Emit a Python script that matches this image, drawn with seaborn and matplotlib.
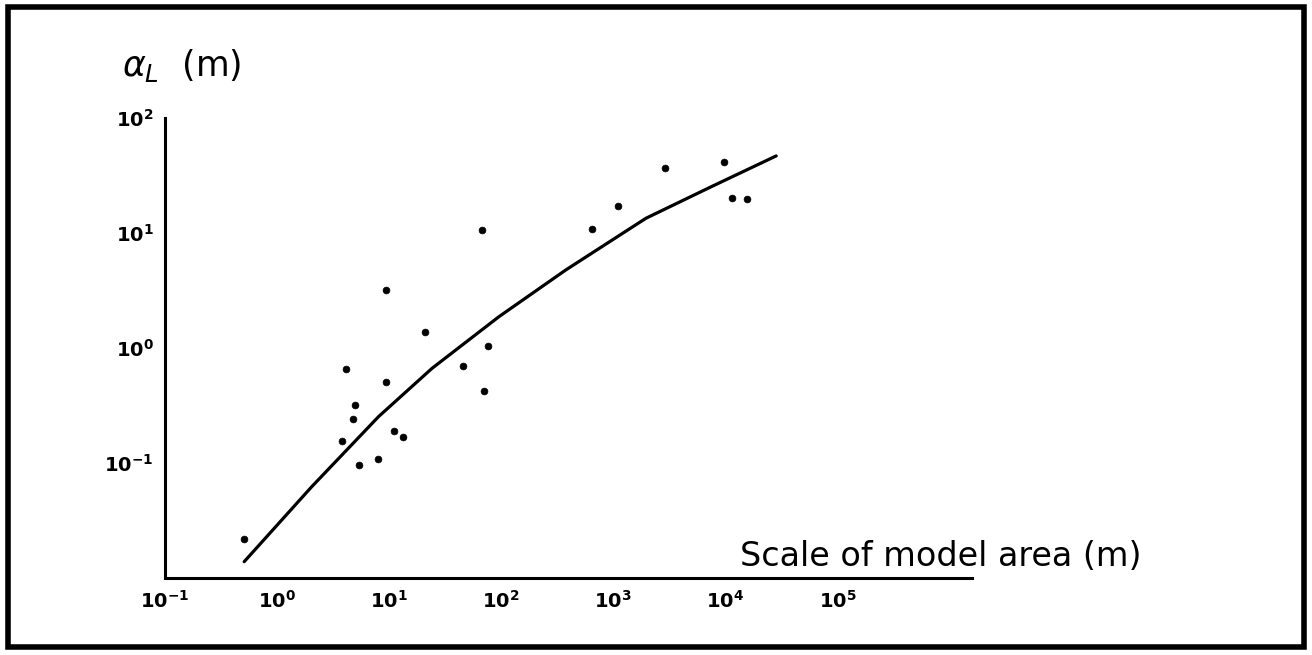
import numpy as np
import pandas as pd
import matplotlib
matplotlib.use("Agg")
import matplotlib.pyplot as plt
from matplotlib.patches import Rectangle
import seaborn as sns

# Observed dispersivity points: scale of model area (m) vs alpha_L (m)
scale_pts = [0.506, 4.1, 4.98, 4.8, 3.78, 5.43, 7.92, 9.33, 9.3, 11.1, 13.2,
             21.0, 45.6, 76.3, 70.7, 68.0, 650.0, 1096.0, 2903.0, 9730.0,
             11470.0, 15430.0]
alpha_pts = [0.0217, 0.653, 0.318, 0.24, 0.155, 0.0966, 0.109, 0.503, 3.19,
             0.191, 0.167, 1.39, 0.70, 1.05, 0.42, 10.6, 10.9, 17.3, 36.6,
             41.7, 20.1, 19.6]

# Fitted curve
curve_scale = [0.509, 2.037, 8.035, 24.1, 95.3, 375.8, 1954.0, 7691.0, 28380.0]
curve_alpha = [0.01387, 0.0622, 0.2529, 0.665, 1.871, 4.764, 13.43, 25.6, 46.8]

x_ticks = [1e-1, 1e0, 1e1, 1e2, 1e3, 1e4, 1e5]
x_tick_labels = [r"$\mathbf{10^{-1}}$", r"$\mathbf{10^{0}}$", r"$\mathbf{10^{1}}$",
                 r"$\mathbf{10^{2}}$", r"$\mathbf{10^{3}}$", r"$\mathbf{10^{4}}$",
                 r"$\mathbf{10^{5}}$"]
y_ticks = [1e-1, 1e0, 1e1, 1e2]
y_tick_labels = [r"$\mathbf{10^{-1}}$", r"$\mathbf{10^{0}}$", r"$\mathbf{10^{1}}$",
                 r"$\mathbf{10^{2}}$"]

pts = pd.DataFrame({"scale": scale_pts, "alpha": alpha_pts})
curve = pd.DataFrame({"scale": curve_scale, "alpha": curve_alpha})

sns.set_style("white")
plt.rcParams["font.family"] = ["DejaVu Sans"]
plt.rcParams["mathtext.fontset"] = "dejavusans"
plt.rcParams["text.color"] = "black"
plt.rcParams["xtick.color"] = "black"
plt.rcParams["ytick.color"] = "black"

fig = plt.figure(figsize=(13.12, 6.55), dpi=100)
ax = fig.add_axes([165 / 1312, 1 - 578 / 655, (972 - 165) / 1312, (578 - 118) / 655])

sns.lineplot(data=curve, x="scale", y="alpha", ax=ax, color="black",
             linewidth=2.3, sort=False, estimator=None,
             solid_joinstyle="round", solid_capstyle="round")
sns.scatterplot(data=pts, x="scale", y="alpha", ax=ax, color="black",
                s=24, edgecolor="black", linewidth=0.5)

ax.set_xscale("log")
ax.set_yscale("log")
ax.set_xlim(1e-1, 10 ** 6.2)
ax.set_ylim(1e-2, 1e2)
ax.set_xticks(x_ticks)
ax.set_xticklabels(x_tick_labels)
ax.set_yticks(y_ticks)
ax.set_yticklabels(y_tick_labels)
ax.minorticks_off()
ax.tick_params(axis="x", direction="inout", length=9, width=1.5, labelsize=14,
               pad=4, colors="black")
ax.tick_params(axis="y", direction="out", length=5, width=1.5, labelsize=14,
               pad=3, colors="black")
ax.set_xlabel("")
ax.set_ylabel("")
for side in ["top", "right"]:
    ax.spines[side].set_visible(False)
for side in ["left", "bottom"]:
    ax.spines[side].set_linewidth(2.2)
    ax.spines[side].set_color("black")

fig.text(122 / 1312, 1 - 66 / 655, r"$\alpha_L$  (m)", fontsize=25,
         va="center", ha="left", color="black")
fig.text(740 / 1312, 1 - 556 / 655, "Scale of model area (m)", fontsize=24,
         va="center", ha="left", color="black")

fig.patches.append(Rectangle((0.006, 0.012), 0.988, 0.978, transform=fig.transFigure,
                             fill=False, edgecolor="black", linewidth=4))

fig.savefig("out.png", dpi=100, facecolor="white")
